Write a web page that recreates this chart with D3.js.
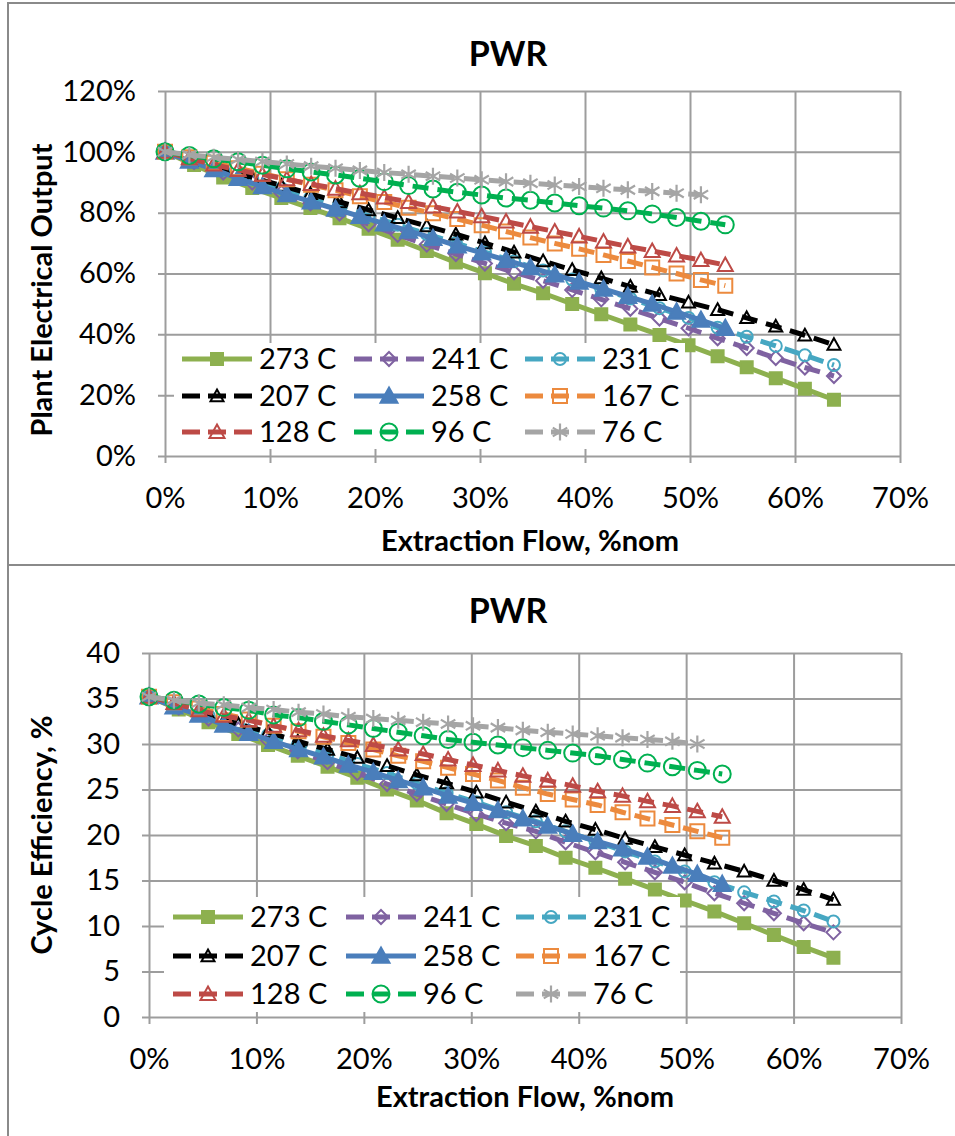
<!DOCTYPE html>
<html>
<head>
<meta charset="utf-8">
<script src="https://cdn.jsdelivr.net/npm/d3@7"></script>
<style>
  body { margin: 0; background: #fff; }
  svg { display: block; }
  text { font-family: Lato, "Open Sans", sans-serif; fill: #000; }
</style>
</head>
<body>
<svg id="chart" width="955" height="1136"></svg>
<script>
    // Extraction flow, %nom (two step sizes are used by the series)
    const flowLong = [0, 2.77, 5.54, 8.31, 11.08, 13.85, 16.62, 19.39, 22.16, 24.93, 27.70, 30.47,
        33.24, 36.01, 38.78, 41.55, 44.32, 47.09, 49.86, 52.63, 55.40, 58.17, 60.94, 63.71];
    const flowShort = [0, 2.32, 4.64, 6.96, 9.28, 11.60, 13.92, 16.24, 18.56, 20.88, 23.20, 25.52,
        27.84, 30.16, 32.48, 34.80, 37.12, 39.44, 41.76, 44.08, 46.40, 48.72, 51.04, 53.36];

    const seriesNames = ["273 C", "241 C", "231 C", "207 C", "258 C", "167 C", "128 C", "96 C", "76 C"];

    // Plant electrical output, %
    const out273 = [100, 95.7, 91.6, 88.1, 84.8, 81.5, 78.2, 74.7, 71.1, 67.4, 63.6, 60.1, 56.6, 53.5, 50.0, 46.6, 43.2, 39.8, 36.4, 32.8, 29.2, 25.6, 22.1, 18.5];
    const out241 = [100, 96.6, 93.2, 89.9, 86.5, 83.1, 79.7, 76.2, 72.7, 69.5, 66.4, 63.3, 60.4, 57.6, 54.6, 51.5, 48.4, 45.2, 42.0, 38.7, 35.5, 32.2, 29.1, 26.3];
    const out231 = [100, 97.0, 94.0, 91.0, 88.0, 85.0, 82.0, 79.0, 76.0, 73.0, 70.0, 67.0, 64.0, 61.0, 58.0, 54.9, 51.8, 48.6, 45.4, 42.2, 39.2, 36.2, 33.1, 29.9];
    const out207 = [100, 97.2, 94.4, 91.6, 88.9, 86.2, 83.5, 80.9, 78.3, 75.6, 72.9, 70.0, 67.0, 64.1, 61.2, 58.5, 55.7, 53.0, 50.5, 48.1, 45.4, 42.6, 39.7, 36.6];
    const out258 = [100, 97.0, 94.2, 91.3, 88.6, 86.0, 83.6, 81.2, 78.8, 76.4, 74.0, 71.6, 69.1, 66.8, 64.4, 62.0, 59.6, 57.2, 54.9, 52.5, 50.0, 47.4, 44.7, 42.0];
    const out167 = [100, 98.2, 96.4, 94.6, 92.8, 91.0, 89.2, 87.4, 85.4, 83.5, 81.6, 79.8, 77.9, 75.9, 73.8, 71.8, 69.9, 68.1, 66.1, 64.1, 62.0, 60.0, 57.9, 56.0];
    const out128 = [100, 97.9, 95.8, 94.0, 92.5, 91.0, 89.4, 87.9, 86.4, 85.0, 83.5, 82.0, 80.4, 78.8, 77.1, 75.4, 73.8, 72.2, 70.5, 68.9, 67.4, 65.9, 64.4, 62.8];
    const out96 = [100, 98.8, 97.7, 96.7, 95.6, 94.4, 93.4, 92.4, 91.3, 90.2, 88.9, 87.8, 86.7, 85.8, 84.8, 84.1, 83.2, 82.3, 81.5, 80.6, 79.6, 78.4, 77.2, 76.0];
    const out76 = [100, 99.0, 98.2, 97.5, 96.8, 96.0, 95.3, 94.6, 93.9, 93.2, 92.6, 92.0, 91.4, 90.8, 90.2, 89.7, 89.1, 88.6, 88.0, 87.5, 87.0, 86.4, 85.9];

    // Cycle efficiency, %
    const eff273 = [35.2, 33.8, 32.4, 31.1, 29.9, 28.7, 27.5, 26.3, 25.0, 23.8, 22.4, 21.2, 19.9, 18.8, 17.5, 16.4, 15.2, 14.0, 12.8, 11.6, 10.3, 9.0, 7.7, 6.5];
    const eff241 = [35.2, 34.0, 32.8, 31.6, 30.4, 29.2, 28.0, 26.8, 25.6, 24.5, 23.4, 22.3, 21.3, 20.4, 19.2, 18.1, 17.0, 15.9, 14.8, 13.6, 12.5, 11.4, 10.3, 9.3];
    const eff231 = [35.2, 34.1, 33.1, 32.0, 31.0, 29.9, 28.9, 27.8, 26.8, 25.7, 24.6, 23.6, 22.5, 21.5, 20.4, 19.3, 18.2, 17.1, 16.0, 14.8, 13.7, 12.7, 11.7, 10.5];
    const eff207 = [35.2, 34.2, 33.2, 32.2, 31.3, 30.3, 29.4, 28.5, 27.6, 26.6, 25.7, 24.7, 23.6, 22.6, 21.5, 20.6, 19.6, 18.7, 17.8, 16.9, 16.0, 15.0, 14.0, 12.9];
    const eff258 = [35.2, 34.1, 33.2, 32.1, 31.2, 30.3, 29.4, 28.6, 27.7, 26.9, 26.0, 25.2, 24.3, 23.5, 22.7, 21.8, 21.0, 20.1, 19.3, 18.5, 17.6, 16.6, 15.7, 14.6];
    const eff167 = [35.2, 34.6, 33.9, 33.3, 32.7, 32.0, 31.4, 30.8, 30.1, 29.4, 28.7, 28.1, 27.4, 26.7, 26.0, 25.2, 24.5, 23.9, 23.3, 22.5, 21.8, 21.1, 20.4, 19.7];
    const eff128 = [35.2, 34.5, 33.7, 33.1, 32.6, 32.0, 31.5, 30.9, 30.4, 29.9, 29.4, 28.9, 28.3, 27.7, 27.1, 26.5, 26.0, 25.4, 24.8, 24.3, 23.7, 23.2, 22.6, 22.0];
    const eff96 = [35.2, 34.8, 34.4, 34.0, 33.7, 33.2, 32.9, 32.5, 32.1, 31.7, 31.3, 30.9, 30.5, 30.2, 29.9, 29.6, 29.3, 29.0, 28.7, 28.3, 27.9, 27.5, 27.1, 26.7];
    const eff76 = [35.2, 34.8, 34.5, 34.3, 34.0, 33.8, 33.5, 33.3, 33.0, 32.8, 32.6, 32.4, 32.2, 32.0, 31.8, 31.5, 31.3, 31.1, 30.9, 30.7, 30.5, 30.3, 30.0];

    const xTicks = [0, 10, 20, 30, 40, 50, 60, 70];
    const outTicks = [0, 20, 40, 60, 80, 100, 120];
    const effTicks = [0, 5, 10, 15, 20, 25, 30, 35, 40];

    const flows = [flowLong, flowLong, flowLong, flowLong, flowShort, flowShort, flowShort, flowShort, flowShort];
    const outputs = [out273, out241, out231, out207, out258, out167, out128, out96, out76];
    const effs = [eff273, eff241, eff231, eff207, eff258, eff167, eff128, eff96, eff76];

    // series look: colour, dash, marker shape, filled, marker size
    const styles = [
        { color: "#8db04f", dash: null, marker: "square", filled: true, size: 12 },
        { color: "#7f62a1", dash: "16,9", marker: "diamond", filled: false, size: 14 },
        { color: "#46a7c2", dash: "16,9", marker: "circle", filled: false, size: 12 },
        { color: "#000000", dash: "16,9", marker: "triangle", filled: false, size: 13 },
        { color: "#4a7ebb", dash: null, marker: "triangle", filled: true, size: 17 },
        { color: "#ec8a3e", dash: "16,9", marker: "square", filled: false, size: 14 },
        { color: "#bd4a46", dash: "16,9", marker: "triangle", filled: false, size: 15 },
        { color: "#00b050", dash: "16,9", marker: "circle", filled: false, size: 17 },
        { color: "#a5a5a5", dash: "16,9", marker: "star", filled: false, size: 17 }
    ];

    function markerPath(type, s) {
        const h = s / 2;
        if (type === "square") return `M${-h},${-h}H${h}V${h}H${-h}Z`;
        if (type === "diamond") return `M0,${-h}L${h},0L0,${h}L${-h},0Z`;
        if (type === "triangle") return `M0,${-h}L${h},${h * 0.8}L${-h},${h * 0.8}Z`;
        if (type === "circle") return `M${h},0A${h},${h} 0 1,1 ${-h},0A${h},${h} 0 1,1 ${h},0Z`;
        // asterisk: vertical bar plus two diagonals
        const d = h * 0.85;
        return `M0,${-h}V${h}M${-d},${-d * 0.6}L${d},${d * 0.6}M${-d},${d * 0.6}L${d},${-d * 0.6}`;
    }

    const svg = d3.select("#chart");

    // outer frames of the two charts
    svg.append("rect").attr("x", 8).attr("y", 3).attr("width", 960).attr("height", 562)
        .attr("fill", "none").attr("stroke", "#8a8a8a").attr("stroke-width", 2);
    svg.append("rect").attr("x", 8).attr("y", 565).attr("width", 960).attr("height", 590)
        .attr("fill", "none").attr("stroke", "#8a8a8a").attr("stroke-width", 2);

    function drawMarker(g, st, x, y) {
        g.append("path")
            .attr("transform", `translate(${x},${y})`)
            .attr("d", markerPath(st.marker, st.size))
            .attr("fill", st.filled ? st.color : "none")
            .attr("stroke", st.color)
            .attr("stroke-width", st.marker === "star" ? 2.2 : 2);
    }

    function drawChart(cfg) {
        const g = svg.append("g");
        const x = d3.scaleLinear().domain([0, 70]).range([cfg.left, cfg.right]);
        const y = d3.scaleLinear().domain(cfg.yDomain).range([cfg.bottom, cfg.top]);
        const w = cfg.right - cfg.left;
        const h = cfg.bottom - cfg.top;

        // horizontal gridlines + y tick labels
        const yAxis = g.append("g")
            .attr("transform", `translate(${cfg.left - 7},0)`)
            .call(d3.axisLeft(y).tickValues(cfg.yTicks).tickSize(-(w + 7)).tickPadding(cfg.yPad)
                .tickFormat(cfg.yFormat));
        // vertical gridlines + x tick labels
        const xAxis = g.append("g")
            .attr("transform", `translate(0,${cfg.bottom + 7})`)
            .call(d3.axisBottom(x).tickValues(xTicks).tickSize(-(h + 7)).tickPadding(24)
                .tickFormat(d => d + "%"));
        [yAxis, xAxis].forEach(a => {
            a.select(".domain").remove();
            a.selectAll("line").attr("stroke", "#9d9d9d").attr("stroke-width", 2);
            a.selectAll("text").attr("font-size", 29).attr("fill", "#000")
                .style("font-family", "Lato, 'Open Sans', sans-serif");
        });

        // series
        seriesNames.forEach((name, i) => {
            const st = styles[i];
            const pts = cfg.values[i].map((v, j) => [flows[i][j], v]);
            g.append("path")
                .datum(pts)
                .attr("fill", "none")
                .attr("stroke", st.color)
                .attr("stroke-width", 5)
                .attr("stroke-dasharray", st.dash)
                .attr("stroke-linejoin", "round")
                .attr("d", d3.line().x(d => x(d[0])).y(d => y(d[1])));
            const mg = g.append("g");
            pts.forEach(p => drawMarker(mg, st, x(p[0]), y(p[1])));
        });

        // legend
        const L = cfg.legend;
        g.append("rect").attr("x", L.x0).attr("y", L.y0).attr("width", L.x1 - L.x0).attr("height", L.y1 - L.y0)
            .attr("fill", "#fff");
        seriesNames.forEach((name, i) => {
            const st = styles[i];
            const lx = L.cols[i % 3];
            const ly = L.rows[Math.floor(i / 3)];
            g.append("line")
                .attr("x1", lx).attr("x2", lx + 70).attr("y1", ly).attr("y2", ly)
                .attr("stroke", st.color).attr("stroke-width", 5)
                .attr("stroke-dasharray", st.dash ? "18,8" : null);
            drawMarker(g, st, lx + 35, ly);
            g.append("text")
                .attr("x", lx + 77).attr("y", ly).attr("dy", "0.36em")
                .attr("font-size", 29)
                .text(name);
        });

        // titles
        g.append("text").attr("x", cfg.titleX).attr("y", cfg.titleY)
            .attr("text-anchor", "middle").attr("font-size", 34).attr("font-weight", "bold")
            .text("PWR");
        g.append("text").attr("x", cfg.xTitleX).attr("y", cfg.xTitleY)
            .attr("text-anchor", "middle").attr("font-size", 29).attr("font-weight", "bold")
            .text("Extraction Flow, %nom");
        g.append("text")
            .attr("transform", `translate(${cfg.yTitleX},${cfg.yTitleY}) rotate(-90)`)
            .attr("text-anchor", "middle").attr("font-size", 29).attr("font-weight", "bold")
            .text(cfg.yTitle);
    }

    drawChart({
        left: 165, right: 900, top: 91, bottom: 456,
        yDomain: [0, 120], yTicks: outTicks, yPad: 22, yFormat: d => d + "%",
        values: outputs,
        legend: { x0: 174, x1: 685, y0: 343, y1: 449, cols: [182, 354, 525], rows: [359, 396, 432] },
        titleX: 508, titleY: 66,
        xTitleX: 530, xTitleY: 551,
        yTitleX: 52, yTitleY: 290, yTitle: "Plant Electrical Output"
    });

    drawChart({
        left: 149, right: 901, top: 653, bottom: 1017,
        yDomain: [0, 40], yTicks: effTicks, yPad: 22, yFormat: d => d,
        values: effs,
        legend: { x0: 164, x1: 680, y0: 897, y1: 1012, cols: [173, 346, 516], rows: [917, 956, 994] },
        titleX: 508, titleY: 623,
        xTitleX: 525, xTitleY: 1107,
        yTitleX: 52, yTitleY: 835, yTitle: "Cycle Efficiency, %"
    });
</script>
</body>
</html>
